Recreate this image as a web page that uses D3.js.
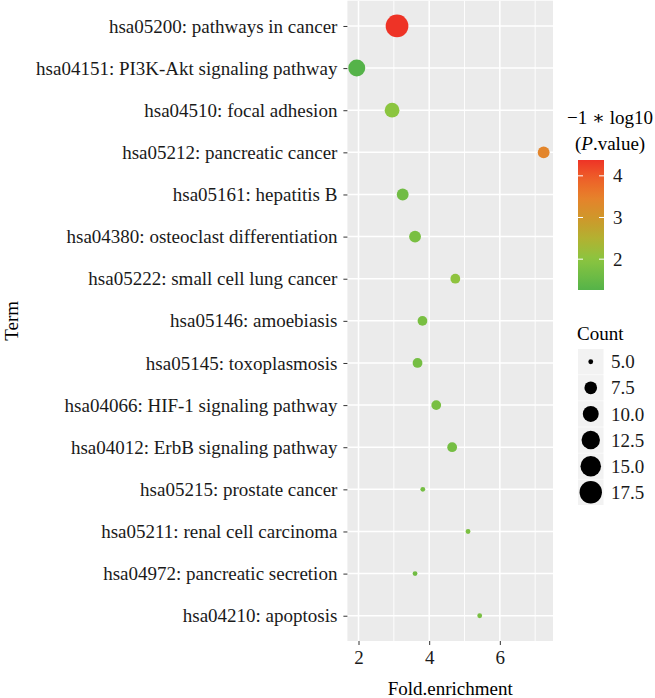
<!DOCTYPE html>
<html>
<head>
<meta charset="utf-8">
<script src="https://cdn.jsdelivr.net/npm/d3@7"></script>
<style>
body { margin: 0; background: #fff; }
svg text { font-family: "Liberation Serif", "DejaVu Serif", serif; }
</style>
</head>
<body>
<div id="chart"></div>
<script>
// KEGG terms, top to bottom
var terms = [
	"hsa05200: pathways in cancer",
	"hsa04151: PI3K-Akt signaling pathway",
	"hsa04510: focal adhesion",
	"hsa05212: pancreatic cancer",
	"hsa05161: hepatitis B",
	"hsa04380: osteoclast differentiation",
	"hsa05222: small cell lung cancer",
	"hsa05146: amoebiasis",
	"hsa05145: toxoplasmosis",
	"hsa04066: HIF-1 signaling pathway",
	"hsa04012: ErbB signaling pathway",
	"hsa05215: prostate cancer",
	"hsa05211: renal cell carcinoma",
	"hsa04972: pancreatic secretion",
	"hsa04210: apoptosis"
];
var foldEnrichment = [3.09, 1.95, 2.95, 7.24, 3.25, 3.60, 4.74, 3.81, 3.67, 4.20, 4.65, 3.82, 5.10, 3.60, 5.43];
var counts = [18, 11, 9, 7, 7, 7, 6, 6, 6, 6, 6, 5, 5, 5, 5];
var negLogP = [4.38, 1.26, 2.0, 3.40, 1.65, 1.75, 2.05, 1.75, 1.70, 1.75, 1.70, 1.70, 1.80, 1.65, 1.75];

var xTicks = [2, 4, 6];
var xMinor = [3, 5, 7];
var colorTicks = [2, 3, 4];
var countBreaks = [5.0, 7.5, 10.0, 12.5, 15.0, 17.5];

// colour ramp stops
var rampValues = [1.26, 2.0, 2.5, 3.0, 3.5, 4.0, 4.38];
var rampColors = ['#55b349', '#8bc53f', '#b3b131', '#cf972b', '#e8802b', '#ee5a28', '#ee3326'];

var W = 655, H = 698;
var panel = {left: 347.4, right: 553, top: 0.7, bottom: 641};
var fs = 19;

var svg = d3.select('#chart').append('svg')
	.attr('width', W)
	.attr('height', H);

// x scale with ggplot-like 5% expansion
var xExt = d3.extent(foldEnrichment);
var pad = (xExt[1] - xExt[0]) * 0.05;
var x = d3.scaleLinear()
	.domain([xExt[0] - pad, xExt[1] + pad])
	.range([panel.left, panel.right]);

var y = d3.scalePoint()
	.domain(terms)
	.range([panel.top, panel.bottom])
	.padding(0.6);

var cExt = d3.extent(negLogP);
var color = d3.scaleLinear()
	.domain(rampValues)
	.range(rampColors)
	.clamp(true);

// size: ggplot area palette, diameter ~ size*.pt + stroke
var cntMin = 5, cntMax = 18.2;
function radius(c) {
	var s = 1 + 5 * Math.sqrt(Math.max(0, (c - cntMin) / (cntMax - cntMin)));
	return 0.635 * (s * 2.845 + 0.94);
}

// panel background
svg.append('rect')
	.attr('x', panel.left)
	.attr('y', panel.top)
	.attr('width', panel.right - panel.left)
	.attr('height', panel.bottom - panel.top)
	.attr('fill', '#ebebeb');

// minor grid
svg.selectAll('.minor')
	.data(xMinor)
	.enter().append('line')
	.attr('x1', d => x(d)).attr('x2', d => x(d))
	.attr('y1', panel.top).attr('y2', panel.bottom)
	.attr('stroke', '#fff')
	.attr('stroke-width', 0.9);

// major grid
svg.selectAll('.vmajor')
	.data(xTicks)
	.enter().append('line')
	.attr('x1', d => x(d)).attr('x2', d => x(d))
	.attr('y1', panel.top).attr('y2', panel.bottom)
	.attr('stroke', '#fff')
	.attr('stroke-width', 1.5);

svg.selectAll('.hmajor')
	.data(terms)
	.enter().append('line')
	.attr('x1', panel.left).attr('x2', panel.right)
	.attr('y1', d => y(d)).attr('y2', d => y(d))
	.attr('stroke', '#fff')
	.attr('stroke-width', 1.5);

// points
svg.selectAll('.pt')
	.data(terms)
	.enter().append('circle')
	.attr('cx', (d, i) => x(foldEnrichment[i]))
	.attr('cy', d => y(d))
	.attr('r', (d, i) => radius(counts[i]))
	.attr('fill', (d, i) => color(negLogP[i]));

// y axis
var yAxis = svg.append('g')
	.attr('transform', 'translate(' + panel.left + ',0)')
	.call(d3.axisLeft(y).tickSize(4).tickPadding(6));
yAxis.select('.domain').remove();
yAxis.selectAll('line').attr('stroke', '#333');
yAxis.selectAll('text')
	.attr('font-size', fs)
	.attr('fill', '#1a1a1a');

// x axis
var xAxis = svg.append('g')
	.attr('transform', 'translate(0,' + panel.bottom + ')')
	.call(d3.axisBottom(x).tickValues(xTicks).tickFormat(d3.format('d')).tickSize(4).tickPadding(6));
xAxis.select('.domain').remove();
xAxis.selectAll('line').attr('stroke', '#333');
xAxis.selectAll('text')
	.attr('font-size', fs)
	.attr('fill', '#1a1a1a');

// axis titles
svg.append('text')
	.attr('x', (panel.left + panel.right) / 2)
	.attr('y', 695)
	.attr('text-anchor', 'middle')
	.attr('font-size', fs)
	.text('Fold.enrichment');

svg.append('text')
	.attr('transform', 'translate(18,' + ((panel.top + panel.bottom) / 2) + ') rotate(-90)')
	.attr('text-anchor', 'middle')
	.attr('font-size', fs)
	.text('Term');

// colour legend
var cbX = 578, cbW = 26, cbTop = 160, cbBot = 290;
var cy = d3.scaleLinear().domain(cExt).range([cbBot, cbTop]);

svg.append('text')
	.attr('x', 567)
	.attr('y', 124)
	.attr('font-size', fs)
	.text('\u22121 \u2217 log10');
var title2 = svg.append('text')
	.attr('x', 575)
	.attr('y', 150)
	.attr('font-size', fs);
title2.append('tspan').text('(');
title2.append('tspan').attr('font-style', 'italic').text('P');
title2.append('tspan').text('.value)');

var grad = svg.append('defs').append('linearGradient')
	.attr('id', 'cgrad')
	.attr('x1', 0).attr('y1', 1).attr('x2', 0).attr('y2', 0);
d3.range(0, 1.0001, 0.05).forEach(function(t) {
	grad.append('stop')
		.attr('offset', t)
		.attr('stop-color', color(cExt[0] + t * (cExt[1] - cExt[0])));
});
svg.append('rect')
	.attr('x', cbX).attr('y', cbTop)
	.attr('width', cbW).attr('height', cbBot - cbTop)
	.attr('fill', 'url(#cgrad)');

colorTicks.forEach(function(v) {
	svg.append('line')
		.attr('x1', cbX).attr('x2', cbX + 5)
		.attr('y1', cy(v)).attr('y2', cy(v))
		.attr('stroke', '#fff').attr('stroke-width', 1);
	svg.append('line')
		.attr('x1', cbX + cbW - 5).attr('x2', cbX + cbW)
		.attr('y1', cy(v)).attr('y2', cy(v))
		.attr('stroke', '#fff').attr('stroke-width', 1);
	svg.append('text')
		.attr('x', 613)
		.attr('y', cy(v))
		.attr('dy', '0.35em')
		.attr('font-size', fs)
		.attr('fill', '#1a1a1a')
		.text(v);
});

// size legend
svg.append('text')
	.attr('x', 577)
	.attr('y', 340)
	.attr('font-size', fs)
	.text('Count');

var keySize = 25.5, keyTop = 349;
var keys = svg.selectAll('.key')
	.data(countBreaks)
	.enter().append('g')
	.attr('transform', (d, i) => 'translate(578,' + (keyTop + i * (keySize + 0.6)) + ')');
keys.append('rect')
	.attr('width', keySize).attr('height', keySize)
	.attr('fill', '#f2f2f2');
keys.append('circle')
	.attr('cx', keySize / 2).attr('cy', keySize / 2)
	.attr('r', d => radius(d))
	.attr('fill', '#000');
keys.append('text')
	.attr('x', 33)
	.attr('y', keySize / 2)
	.attr('dy', '0.35em')
	.attr('font-size', fs)
	.attr('fill', '#1a1a1a')
	.text(d => d.toFixed(1));
</script>
</body>
</html>
